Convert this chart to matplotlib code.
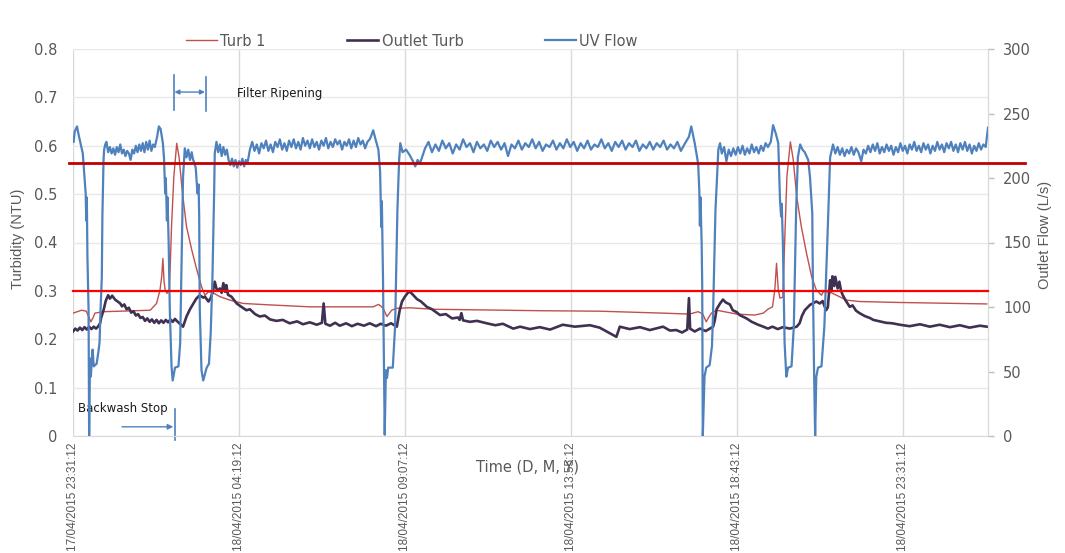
"""
Filter turbidity and outlet flow over one filter run cycle (17-19 April 2015).
Recreates the Excel-style dual-axis chart with backwash / ripening notes.
"""

import matplotlib

matplotlib.use("Agg")
import matplotlib.pyplot as plt
from matplotlib.transforms import blended_transform_factory


# ---- data (time in minutes after 17/04/2015 23:31:12) ----
TICK_MINUTES = [0, 288, 576, 864, 1152, 1440]
TICK_LABELS = [
    "17/04/2015 23:31:12",
    "18/04/2015 04:19:12",
    "18/04/2015 09:07:12",
    "18/04/2015 13:55:12",
    "18/04/2015 18:43:12",
    "18/04/2015 23:31:12",
]

TURB1_T = [0, 15, 23, 26, 31, 35, 38, 53, 82, 108, 134, 145, 151, 154, 156, 158, 160, 163,
           167, 169, 171, 175, 180, 184, 190, 197, 206, 215, 223, 229, 235, 243, 255, 272,
           295, 342, 411, 521, 530, 535, 538, 545, 553, 562, 585, 625, 810, 914, 1024, 1070,
           1085, 1093, 1099, 1103, 1108, 1117, 1152, 1183, 1198, 1206, 1214, 1218, 1221, 1224,
           1227, 1232, 1235, 1239, 1245, 1250, 1256, 1264, 1273, 1282, 1290, 1299, 1302, 1313,
           1325, 1342, 1365, 1435, 1586]
TURB1_NTU = [0.254, 0.260, 0.258, 0.250, 0.236, 0.245, 0.254, 0.257, 0.258, 0.259, 0.260,
             0.274, 0.302, 0.330, 0.367, 0.320, 0.302, 0.295, 0.300, 0.360, 0.433, 0.536,
             0.605, 0.577, 0.502, 0.433, 0.385, 0.343, 0.309, 0.291, 0.298, 0.296, 0.288,
             0.281, 0.274, 0.271, 0.267, 0.267, 0.272, 0.268, 0.264, 0.247, 0.260, 0.264,
             0.265, 0.262, 0.259, 0.258, 0.254, 0.252, 0.257, 0.252, 0.236, 0.245, 0.254,
             0.260, 0.252, 0.250, 0.254, 0.262, 0.267, 0.302, 0.357, 0.302, 0.285, 0.287,
             0.398, 0.536, 0.608, 0.571, 0.495, 0.433, 0.378, 0.329, 0.302, 0.291, 0.298,
             0.298, 0.291, 0.281, 0.278, 0.276, 0.273]

OUTLET_T = [0, 4, 8, 12, 16, 20, 24, 28, 32, 36, 40, 44, 47, 49, 53, 57, 61, 64, 68, 73, 82,
            85, 89, 93, 97, 101, 105, 109, 113, 117, 121, 125, 129, 133, 137, 141, 145, 149,
            153, 157, 161, 165, 169, 173, 177, 180, 191, 197, 203, 209, 214, 220, 226, 229,
            235, 239, 243, 246, 250, 255, 258, 261, 264, 266, 269, 275, 284, 291, 301, 307,
            316, 324, 333, 342, 353, 364, 376, 389, 399, 411, 423, 432, 435, 438, 446, 455,
            463, 474, 484, 494, 505, 515, 526, 534, 543, 552, 562, 564, 567, 571, 576, 581,
            585, 590, 597, 604, 614, 623, 637, 647, 658, 668, 671, 674, 677, 689, 701, 718,
            733, 746, 764, 776, 793, 810, 828, 850, 871, 897, 914, 943, 949, 966, 984, 1001,
            1024, 1036, 1047, 1057, 1066, 1069, 1071, 1079, 1088, 1098, 1111, 1114, 1117,
            1123, 1128, 1133, 1140, 1145, 1152, 1157, 1169, 1178, 1189, 1198, 1206, 1214,
            1223, 1232, 1244, 1256, 1261, 1265, 1270, 1279, 1290, 1296, 1301, 1307, 1310,
            1314, 1316, 1318, 1321, 1323, 1327, 1330, 1333, 1336, 1341, 1348, 1353, 1359,
            1365, 1374, 1383, 1389, 1400, 1411, 1422, 1435, 1452, 1470, 1487, 1504, 1522,
            1539, 1556, 1574, 1586]
OUTLET_NTU = [0.216, 0.222, 0.218, 0.224, 0.219, 0.225, 0.220, 0.226, 0.221, 0.226, 0.222,
              0.227, 0.233, 0.245, 0.260, 0.280, 0.291, 0.284, 0.290, 0.282, 0.274, 0.268,
              0.272, 0.262, 0.265, 0.255, 0.258, 0.249, 0.252, 0.244, 0.246, 0.238, 0.243,
              0.236, 0.241, 0.234, 0.240, 0.233, 0.239, 0.234, 0.240, 0.235, 0.241, 0.236,
              0.242, 0.238, 0.226, 0.247, 0.262, 0.274, 0.284, 0.291, 0.286, 0.288, 0.278,
              0.285, 0.300, 0.319, 0.300, 0.305, 0.296, 0.316, 0.298, 0.312, 0.292, 0.288,
              0.274, 0.268, 0.260, 0.262, 0.252, 0.247, 0.249, 0.241, 0.238, 0.240, 0.233,
              0.237, 0.231, 0.235, 0.230, 0.234, 0.274, 0.232, 0.228, 0.234, 0.228, 0.233,
              0.227, 0.232, 0.228, 0.233, 0.227, 0.232, 0.228, 0.233, 0.226, 0.240, 0.260,
              0.278, 0.288, 0.296, 0.298, 0.292, 0.283, 0.278, 0.267, 0.262, 0.250, 0.252,
              0.243, 0.245, 0.240, 0.254, 0.239, 0.236, 0.238, 0.233, 0.229, 0.232, 0.222,
              0.226, 0.221, 0.225, 0.220, 0.230, 0.226, 0.229, 0.224, 0.205, 0.226, 0.221,
              0.225, 0.219, 0.226, 0.218, 0.219, 0.214, 0.220, 0.285, 0.222, 0.216, 0.222,
              0.217, 0.226, 0.240, 0.262, 0.274, 0.282, 0.276, 0.272, 0.260, 0.256, 0.250,
              0.243, 0.236, 0.230, 0.226, 0.222, 0.226, 0.221, 0.225, 0.222, 0.226, 0.233,
              0.248, 0.260, 0.271, 0.278, 0.274, 0.279, 0.260, 0.266, 0.322, 0.300, 0.330,
              0.310, 0.329, 0.305, 0.319, 0.300, 0.291, 0.280, 0.267, 0.270, 0.259, 0.254,
              0.248, 0.244, 0.240, 0.237, 0.234, 0.233, 0.230, 0.227, 0.231, 0.226, 0.230,
              0.225, 0.229, 0.224, 0.228, 0.226]

FLOW_T = [1, 3, 7, 10, 14, 17, 20, 22, 23, 24, 25, 27, 28, 29.5, 31, 33, 34, 36, 41, 44, 46,
          48, 50, 51, 53, 54, 56, 58, 61, 64, 67, 70, 73, 76, 79, 82, 85, 88, 91, 94, 97, 100,
          103, 106, 109, 112, 115, 118, 121, 124, 127, 130, 133, 136, 139, 142, 146, 149, 152,
          156, 158, 160, 161, 163, 164, 166, 168, 171, 173, 177, 183, 186, 189, 191, 194, 197,
          200, 203, 206, 208, 213, 216, 218, 219, 220, 223, 226, 232, 236, 239, 242, 245, 246,
          249, 252, 255, 258, 261, 264, 267, 270, 273, 276, 279, 282, 285, 288, 291, 294, 297,
          300, 303, 307, 311, 315, 319, 323, 327, 331, 335, 339, 343, 347, 351, 355, 359, 363,
          367, 371, 375, 379, 383, 387, 391, 395, 399, 403, 407, 411, 415, 419, 423, 427, 431,
          435, 439, 443, 447, 451, 455, 459, 463, 467, 471, 475, 479, 483, 487, 491, 495, 499,
          503, 507, 511, 515, 517, 521, 525, 530, 533, 534, 535, 536, 538, 541, 543, 545, 547,
          555, 559, 563, 566, 568, 572, 578, 584, 590, 594, 598, 602, 611, 617, 623, 629, 635,
          641, 647, 653, 659, 665, 671, 677, 683, 689, 695, 701, 707, 713, 719, 725, 731, 737,
          743, 749, 755, 761, 767, 773, 779, 785, 791, 797, 803, 809, 815, 821, 827, 833, 839,
          845, 851, 857, 863, 869, 875, 881, 887, 893, 899, 905, 911, 917, 923, 929, 935, 941,
          947, 953, 959, 965, 971, 977, 983, 989, 995, 1001, 1007, 1013, 1019, 1025, 1031,
          1037, 1043, 1049, 1055, 1061, 1065, 1069, 1073, 1079, 1085, 1087, 1088, 1089, 1091,
          1092, 1093, 1096, 1099, 1105, 1109, 1111, 1115, 1120, 1123, 1126, 1130, 1134, 1138,
          1142, 1146, 1150, 1154, 1158, 1162, 1166, 1170, 1174, 1178, 1182, 1186, 1190, 1194,
          1198, 1202, 1206, 1211, 1215, 1220, 1224, 1227, 1229, 1230, 1232, 1235, 1238, 1241,
          1247, 1251, 1255, 1258, 1262, 1266, 1270, 1276, 1279, 1282, 1283, 1284, 1286, 1288,
          1290, 1293, 1299, 1304, 1310, 1314, 1319, 1323, 1327, 1331, 1335, 1339, 1343, 1347,
          1351, 1355, 1359, 1363, 1368, 1372, 1376, 1380, 1384, 1388, 1392, 1396, 1400, 1404,
          1408, 1412, 1416, 1420, 1424, 1428, 1432, 1436, 1440, 1444, 1448, 1452, 1456, 1460,
          1464, 1468, 1472, 1476, 1480, 1484, 1488, 1492, 1496, 1500, 1504, 1508, 1512, 1516,
          1520, 1524, 1528, 1532, 1536, 1540, 1544, 1548, 1552, 1556, 1560, 1564, 1568, 1572,
          1576, 1580, 1584, 1588]
FLOW_LS = [228, 236, 240, 233, 225, 219, 200, 188, 167, 185, 140, 98, 0, 60, 46, 62, 67, 54,
           56, 65, 72, 100, 123, 170, 214, 222, 226, 228, 220, 224, 219, 223, 218, 224, 220,
           226, 219, 222, 217, 221, 219, 214, 222, 219, 225, 220, 226, 221, 227, 220, 228, 222,
           229, 221, 226, 224, 232, 240, 238, 227, 215, 188, 200, 167, 185, 150, 98, 54, 43,
           53, 54, 72, 150, 201, 223, 216, 222, 214, 220, 215, 208, 188, 195, 170, 98, 51, 43,
           53, 56, 80, 123, 190, 219, 228, 220, 226, 217, 224, 218, 222, 214, 210, 215, 209,
           214, 208, 213, 210, 215, 209, 214, 212, 222, 228, 221, 226, 219, 227, 223, 229, 221,
           226, 220, 228, 224, 230, 222, 227, 221, 229, 224, 230, 223, 228, 222, 231, 225, 229,
           223, 230, 224, 228, 222, 229, 225, 231, 223, 228, 224, 230, 226, 229, 222, 228, 225,
           230, 223, 229, 224, 231, 226, 229, 223, 228, 230, 232, 237, 230, 222, 205, 185, 162,
           182, 123, 1, 51, 45, 53, 53, 85, 175, 214, 227, 220, 222, 218, 213, 209, 214, 211,
           223, 228, 220, 226, 221, 229, 223, 227, 219, 226, 222, 230, 224, 227, 220, 228, 223,
           226, 221, 229, 224, 228, 222, 227, 217, 226, 223, 229, 222, 227, 224, 230, 223, 228,
           221, 226, 224, 229, 222, 227, 223, 230, 224, 228, 221, 227, 223, 229, 222, 226, 224,
           230, 223, 227, 221, 228, 224, 229, 222, 227, 224, 229, 221, 226, 223, 228, 222, 227,
           224, 229, 222, 226, 223, 228, 221, 226, 229, 232, 240, 227, 211, 190, 163, 185, 150,
           118, 0, 46, 53, 55, 70, 98, 175, 222, 227, 219, 224, 213, 222, 217, 223, 218, 224,
           219, 225, 218, 223, 219, 226, 220, 224, 219, 225, 221, 227, 224, 228, 241, 234, 227,
           183, 170, 180, 150, 72, 46, 53, 54, 85, 175, 216, 226, 222, 220, 214, 201, 180, 173,
           123, 54, 0, 46, 53, 54, 85, 162, 216, 226, 219, 224, 218, 223, 217, 222, 219, 224,
           218, 223, 220, 213, 222, 219, 225, 220, 226, 221, 227, 219, 224, 220, 226, 221, 225,
           218, 224, 220, 227, 221, 225, 219, 226, 222, 228, 221, 225, 220, 227, 222, 226, 219,
           225, 221, 228, 222, 226, 220, 227, 223, 228, 221, 226, 220, 227, 222, 228, 221, 226,
           219, 225, 221, 227, 222, 226, 224, 239]

LIMIT_UPPER_NTU = 0.565
LIMIT_LOWER_NTU = 0.30

# ---- style ----
RED = "#C0504D"
PURPLE = "#403152"
BLUE = "#4F81BD"
GRAY_TXT = "#595959"
GRID_H = "#E8E8E8"
GRID_V = "#D9D9D9"

plt.rcParams["font.family"] = ["DejaVu Sans"]

fig = plt.figure(figsize=(10.65, 5.53), dpi=100)
ax = fig.add_axes([73 / 1065, 1 - 436 / 553, 915 / 1065, 387 / 553])
ax2 = ax.twinx()

l1, = ax.plot(TURB1_T, TURB1_NTU, color=RED, lw=1.0, label="Turb 1")
l2, = ax.plot(OUTLET_T, OUTLET_NTU, color=PURPLE, lw=1.9, label="Outlet Turb")
l3, = ax2.plot(FLOW_T, FLOW_LS, color=BLUE, lw=1.6, label="UV Flow")

ax.set_xlim(0, 1588)
ax.set_ylim(0, 0.8)
ax2.set_ylim(0, 300)
ax.set_yticks([i / 10 for i in range(9)])
ax.set_yticklabels(["0"] + [f"{i / 10:.1f}" for i in range(1, 9)])
ax2.set_yticks(range(0, 301, 50))
ax.set_xticks(TICK_MINUTES)
ax.set_xticklabels(TICK_LABELS, rotation=90, family="Liberation Sans", fontsize=8.5,
                   color=GRAY_TXT)

ax.grid(axis="y", color=GRID_H, lw=1.0)
ax.grid(axis="x", color=GRID_V, lw=1.0)
ax.set_axisbelow(True)
for a in (ax, ax2):
    a.spines["top"].set_visible(False)
    a.spines["left"].set_visible(False)
    a.spines["bottom"].set_color(GRID_V)
    a.spines["right"].set_color(GRID_V)
ax2.spines["bottom"].set_visible(False)

ax.tick_params(axis="y", length=0, pad=11, labelsize=10.5, labelcolor=GRAY_TXT)
ax.tick_params(axis="x", length=0, pad=5)
ax2.tick_params(axis="y", length=4, width=1, color="#BFBFBF", pad=7,
                labelsize=10.5, labelcolor=GRAY_TXT)

ax.set_ylabel("Turbidity (NTU)", family="Liberation Sans", fontsize=10.5, color=GRAY_TXT)
ax.yaxis.set_label_coords(-0.052, 0.51)
ax2.set_ylabel("Outlet Flow (L/s)", family="Liberation Sans", fontsize=10.5, color=GRAY_TXT)
ax2.yaxis.set_label_coords(1.055, 0.52)
fig.text(528 / 1065, 1 - 467 / 553, "Time (D, M, Y)", ha="center", va="center",
         fontsize=10.5, color=GRAY_TXT)

# limit lines, drawn above every series
blend = blended_transform_factory(ax2.transAxes, ax.transData)
ax2.plot([-0.004, 1.04], [LIMIT_UPPER_NTU] * 2, color="#C00000", lw=2.0,
         transform=blend, clip_on=False, zorder=5)
ax2.plot([0, 1], [LIMIT_LOWER_NTU] * 2, color="#FF0000", lw=1.6,
         transform=blend, clip_on=False, zorder=5)

# annotations
note_kw = dict(color=BLUE, lw=1.2)
ax.plot([175, 175], [0.674, 0.746], **note_kw)
ax.plot([230, 230], [0.672, 0.742], **note_kw)
ax.annotate("", xy=(229, 0.711), xytext=(176, 0.711),
            arrowprops=dict(arrowstyle="<|-|>", color=BLUE, lw=1.0,
                            shrinkA=0, shrinkB=0, mutation_scale=7))
ax.text(284, 0.709, "Filter Ripening", fontsize=8.5, va="center", color="#1A1A1A")

ax.plot([177, 177], [-0.008, 0.056], clip_on=False, **note_kw)
ax.annotate("", xy=(174, 0.019), xytext=(85, 0.019),
            arrowprops=dict(arrowstyle="-|>", color=BLUE, lw=1.0,
                            shrinkA=0, shrinkB=0, mutation_scale=8))
ax.text(9, 0.056, "Backwash Stop", fontsize=8.5, va="center", color="#1A1A1A")

leg = ax2.legend(handles=[l1, l2, l3], loc="center", ncol=3, frameon=False,
                 bbox_to_anchor=(412 / 1065, 1 - 41 / 553), bbox_transform=fig.transFigure,
                 fontsize=10.5, handlelength=2.1, handletextpad=0.25, columnspacing=5.6,
                 borderpad=0, borderaxespad=0)
for txt in leg.get_texts():
    txt.set_color(GRAY_TXT)

fig.savefig("out.png", dpi=100)
